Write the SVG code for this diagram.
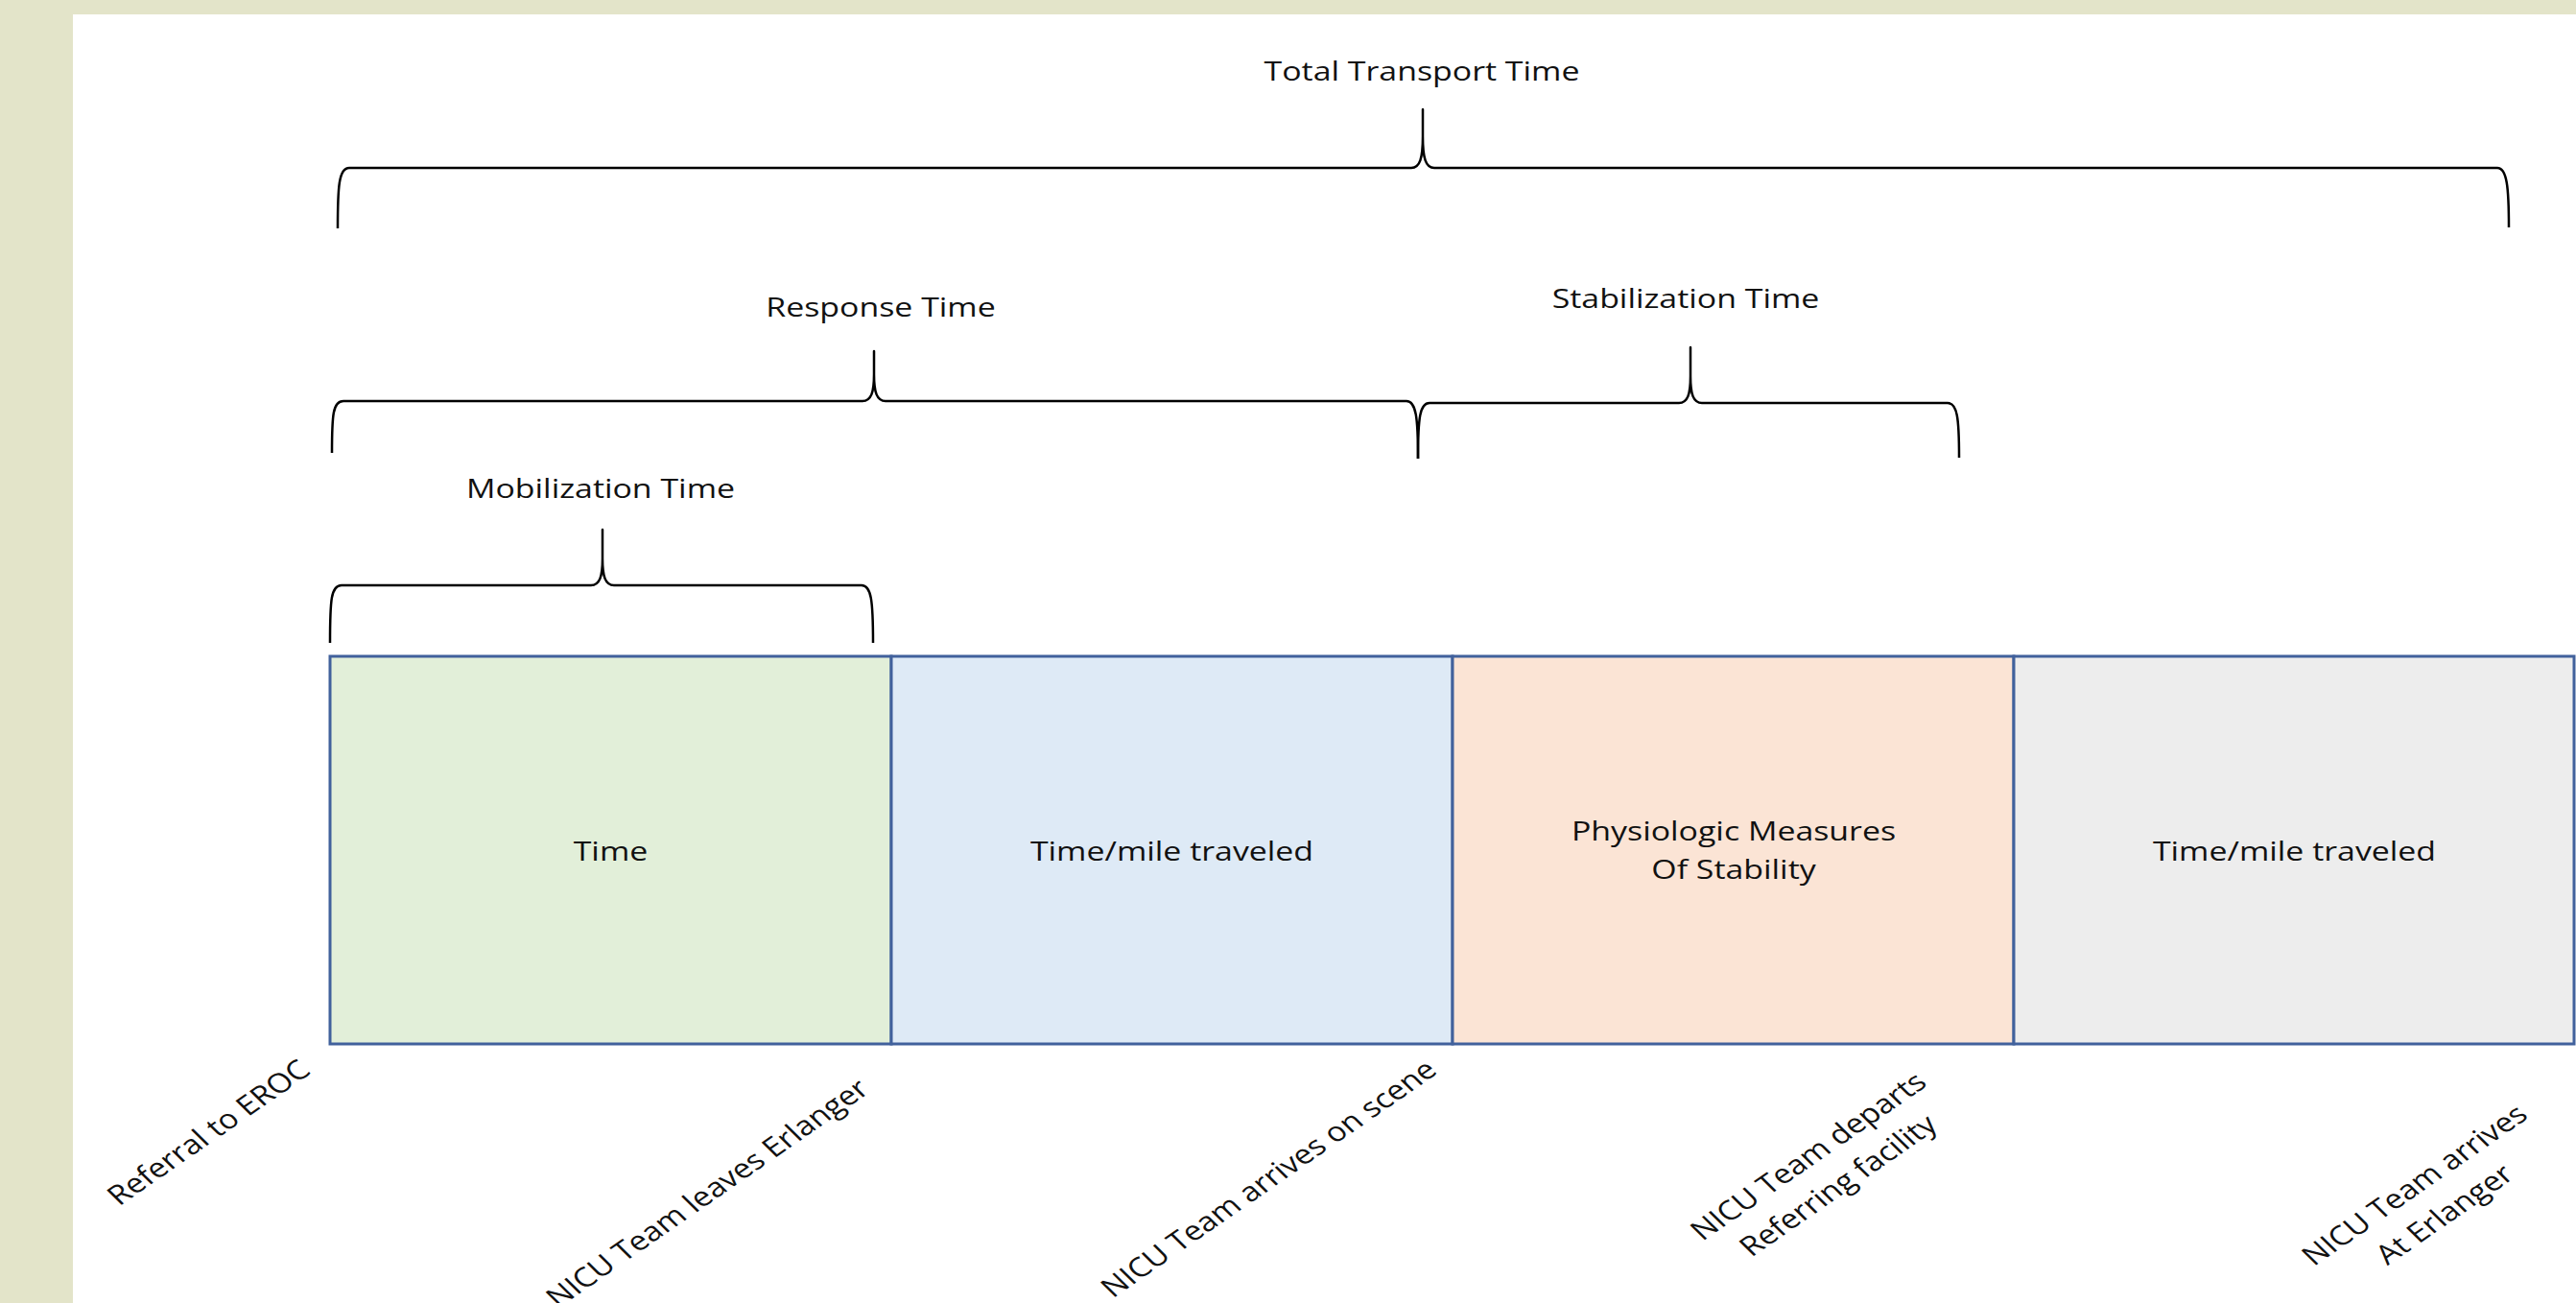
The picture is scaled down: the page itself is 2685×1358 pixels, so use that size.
<svg xmlns="http://www.w3.org/2000/svg" width="2685" height="1358" viewBox="0 0 2685 1358">
<style>
.t{font-family:"Open Sans","Liberation Sans",sans-serif;font-size:28px;fill:#111;text-anchor:middle}
.seg{stroke:#41619C;stroke-width:3}
.brace{fill:none;stroke:#000;stroke-width:2.5;stroke-linejoin:round;stroke-linecap:butt}
</style>
<rect x="0" y="0" width="2685" height="1358" fill="#E3E4C9"/>
<rect x="76" y="15" width="2609" height="1343" fill="#FFFFFF"/>

<g id="connectors">
<path class="brace" d="M352,238 C352,195 353,175 364,175 H1471 C1480,175 1483,165 1483,142 L1483,114 L1483,142 C1483,165 1486,175 1495,175 H2603 C2613,175 2615,195 2615,237"/>
<path class="brace" d="M346,472 C346,432 347,418 358,418 H899 C908,418 911,409 911,390 L911,366 L911,390 C911,409 914,418 923,418 H1466 C1476,418 1478,435 1478,478"/>
<path class="brace" d="M1478,478 C1478,435 1480,420 1490,420 H1750 C1759,420 1762,411 1762,392 L1762,362 L1762,392 C1762,411 1765,420 1774,420 H2030 C2040,420 2042,435 2042,477"/>
<path class="brace" d="M344,670 C344,625 345,610 356,610 H616 C625,610 628,601 628,582 L628,552 L628,582 C628,601 631,610 640,610 H898 C908,610 910,625 910,670"/>
</g>

<g id="brace-labels">
<text class="t" transform="translate(1482,84) scale(1.21,1)">Total Transport Time</text>
<text class="t" transform="translate(918,330) scale(1.21,1)">Response Time</text>
<text class="t" transform="translate(1757,321) scale(1.21,1)">Stabilization Time</text>
<text class="t" transform="translate(626,519) scale(1.21,1)">Mobilization Time</text>
</g>

<g id="node-mobilization">
<rect class="seg" x="344" y="684" width="585" height="404" fill="#E2EFD9"/>
<text class="t" transform="translate(636.5,897) scale(1.21,1)">Time</text>
</g>
<g id="node-travel-out">
<rect class="seg" x="929" y="684" width="585" height="404" fill="#DEEAF6"/>
<text class="t" transform="translate(1221.5,897) scale(1.21,1)">Time/mile traveled</text>
</g>
<g id="node-stabilization">
<rect class="seg" x="1514" y="684" width="585" height="404" fill="#FBE4D5"/>
<text class="t" transform="translate(1807,876) scale(1.21,1)">Physiologic Measures</text>
<text class="t" transform="translate(1807,916) scale(1.21,1)">Of Stability</text>
</g>
<g id="node-travel-back">
<rect class="seg" x="2099" y="684" width="584" height="404" fill="#EDEDED"/>
<text class="t" transform="translate(2391.5,897) scale(1.21,1)">Time/mile traveled</text>
</g>

<g id="milestones">
<text class="t" transform="translate(217,1180) scale(1.21,1) rotate(-40)" y="10">Referral to EROC</text>
<text class="t" transform="translate(737,1243) scale(1.21,1) rotate(-40)" y="10">NICU Team leaves Erlanger</text>
<text class="t" transform="translate(1322,1228) scale(1.21,1) rotate(-40)" y="10">NICU Team arrives on scene</text>
<text class="t" transform="translate(1900,1220) scale(1.21,1) rotate(-40)"><tspan x="0" y="-10">NICU Team departs</tspan><tspan x="0" y="30">Referring facility</tspan></text>
<text class="t" transform="translate(2532,1250) scale(1.21,1) rotate(-40)"><tspan x="0" y="-10">NICU Team arrives</tspan><tspan x="0" y="30">At Erlanger</tspan></text>
</g>
</svg>
